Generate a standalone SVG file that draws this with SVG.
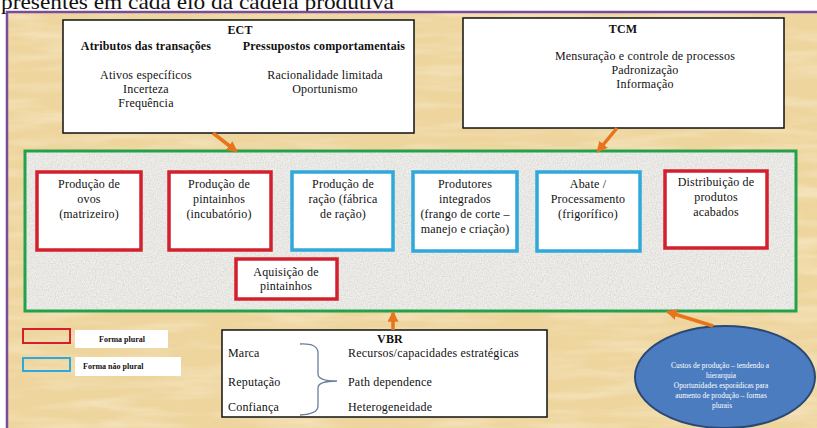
<svg xmlns="http://www.w3.org/2000/svg" width="817" height="428" viewBox="0 0 817 428" font-family="'Liberation Serif', 'DejaVu Serif', serif">
  <defs>
    <style>
      text { font-family: "Liberation Serif", "DejaVu Serif", serif; fill: #111; }
      .t12 { font-size: 12px; letter-spacing: 0.2px; }
      .b12 { font-size: 12px; font-weight: bold; letter-spacing: 0.15px; }
      .mid { text-anchor: middle; }
      .box { fill: #ffffff; stroke: #111; stroke-width: 1.5; }
      .red { fill: #ffffff; stroke: #d3202c; stroke-width: 3.5; }
      .blue { fill: #ffffff; stroke: #2fa9d9; stroke-width: 3.5; }
      .arrow { stroke: #e8741c; stroke-width: 3.5; fill: none; marker-end: url(#head); }
      .legend { font-size: 8px; font-weight: bold; }
      .oval { font-size: 7.4px; fill: #ffffff; text-anchor: middle; }
    </style>
    <marker id="head" viewBox="0 0 10 10" refX="8" refY="5" markerWidth="11" markerHeight="11" markerUnits="userSpaceOnUse" orient="auto">
      <path d="M0,0 L10,5 L0,10 Z" fill="#e8741c"/>
    </marker>
    <filter id="grain" x="0" y="0" width="100%" height="100%">
      <feTurbulence type="fractalNoise" baseFrequency="0.85" numOctaves="2" seed="4" result="n"/>
      <feColorMatrix in="n" type="matrix" values="0 0 0 0 0.45  0 0 0 0 0.42  0 0 0 0 0.38  0 0 0 -1.6 1.05"/>
    </filter>
    <filter id="fibre" x="0" y="0" width="100%" height="100%">
      <feTurbulence type="fractalNoise" baseFrequency="0.012 0.09" numOctaves="3" seed="7" result="n"/>
      <feColorMatrix in="n" type="matrix" values="0 0 0 0 1  0 0 0 0 0.96  0 0 0 0 0.85  0 0 0 1.1 -0.45"/>
    </filter>
  </defs>

  <!-- page -->
  <rect x="0" y="0" width="817" height="428" fill="#ffffff"/>
  <text x="1" y="8.5" style="font-size:21px" textLength="393" lengthAdjust="spacingAndGlyphs">presentes em cada elo da cadeia produtiva</text>

  <!-- parchment panel -->
  <rect x="7" y="12" width="820" height="430" fill="#eed59e"/>
  <rect x="7" y="12" width="820" height="430" filter="url(#fibre)" opacity="0.7"/>
  <rect x="7" y="12" width="820" height="430" fill="none" stroke="#7b4b9b" stroke-width="2.5"/>

  <!-- supply chain container -->
  <g id="chain">
    <rect x="25" y="151" width="771" height="160" fill="#efefec"/>
    <rect x="25" y="151" width="771" height="160" filter="url(#grain)" opacity="0.45"/>
    <rect x="25" y="151" width="771" height="160" fill="none" stroke="#22a34b" stroke-width="3"/>
  </g>

  <!-- theory boxes -->
  <g id="ect">
    <rect class="box" x="63" y="20" width="351" height="113"/>
    <text class="b12 mid" x="240" y="34">ECT</text>
    <text class="b12 mid" x="146" y="50">Atributos das transações</text>
    <text class="b12 mid" x="324" y="50">Pressupostos comportamentais</text>
    <text class="t12 mid" x="146" y="79">Ativos específicos</text>
    <text class="t12 mid" x="146" y="93">Incerteza</text>
    <text class="t12 mid" x="146" y="107">Frequência</text>
    <text class="t12 mid" x="325" y="79">Racionalidade limitada</text>
    <text class="t12 mid" x="325" y="93">Oportunismo</text>
  </g>

  <g id="tcm">
    <rect class="box" x="463" y="18" width="321" height="110"/>
    <text class="b12 mid" x="623" y="33">TCM</text>
    <text class="t12 mid" x="645" y="60">Mensuração e controle de processos</text>
    <text class="t12 mid" x="645" y="74">Padronização</text>
    <text class="t12 mid" x="645" y="88">Informação</text>
  </g>

  <!-- chain links -->
  <g id="n-ovos">
    <rect class="red" x="37" y="172" width="104" height="78"/>
    <text class="t12 mid" x="89" y="188">Produção de</text>
    <text class="t12 mid" x="89" y="203">ovos</text>
    <text class="t12 mid" x="89" y="218">(matrizeiro)</text>
  </g>
  <g id="n-pintainhos">
    <rect class="red" x="169" y="172" width="102" height="78"/>
    <text class="t12 mid" x="219" y="188">Produção de</text>
    <text class="t12 mid" x="219" y="203">pintainhos</text>
    <text class="t12 mid" x="219" y="218">(incubatório)</text>
  </g>
  <g id="n-racao">
    <rect class="blue" x="292" y="172" width="101" height="78"/>
    <text class="t12 mid" x="343" y="188">Produção de</text>
    <text class="t12 mid" x="343" y="203">ração (fábrica</text>
    <text class="t12 mid" x="343" y="218">de ração)</text>
  </g>
  <g id="n-integrados">
    <rect class="blue" x="413" y="172" width="104" height="79"/>
    <text class="t12 mid" x="465" y="188">Produtores</text>
    <text class="t12 mid" x="465" y="203">integrados</text>
    <text class="t12 mid" x="465" y="218">(frango de corte –</text>
    <text class="t12 mid" x="465" y="233">manejo e criação)</text>
  </g>
  <g id="n-abate">
    <rect class="blue" x="537" y="172" width="103" height="79"/>
    <text class="t12 mid" x="588" y="188">Abate /</text>
    <text class="t12 mid" x="588" y="203">Processamento</text>
    <text class="t12 mid" x="588" y="218">(frigorífico)</text>
  </g>
  <g id="n-distribuicao">
    <rect class="red" x="665" y="171" width="102" height="77"/>
    <text class="t12 mid" x="716" y="186">Distribuição de</text>
    <text class="t12 mid" x="716" y="201">produtos</text>
    <text class="t12 mid" x="716" y="216">acabados</text>
  </g>
  <g id="n-aquisicao">
    <rect class="red" x="236" y="259" width="101" height="40"/>
    <text class="t12 mid" x="286" y="276">Aquisição de</text>
    <text class="t12 mid" x="286" y="290">pintainhos</text>
  </g>

  <!-- legend -->
  <g id="legend">
    <rect x="23" y="329" width="47" height="14" fill="none" stroke="#d3202c" stroke-width="2"/>
    <rect x="23" y="358" width="47" height="13" fill="none" stroke="#2fa9d9" stroke-width="2"/>
    <rect x="75" y="330" width="93" height="18" fill="#ffffff"/>
    <rect x="75" y="357" width="106" height="19" fill="#ffffff"/>
    <text class="legend mid" x="122" y="342">Forma plural</text>
    <text class="legend" x="83" y="369">Forma não plural</text>
  </g>

  <g id="vbr">
    <rect class="box" x="222" y="330" width="325" height="87"/>
    <text class="b12 mid" x="390" y="343">VBR</text>
    <text class="t12" x="228" y="357">Marca</text>
    <text class="t12" x="228" y="386">Reputação</text>
    <text class="t12" x="228" y="411">Confiança</text>
    <text class="t12" x="348" y="357">Recursos/capacidades estratégicas</text>
    <text class="t12" x="348" y="386">Path dependence</text>
    <text class="t12" x="348" y="411">Heterogeneidade</text>
    <path d="M300,344 Q318,343 318,353 L318,374 Q318,381 337,381 Q318,381 318,388 L318,406 Q318,414 300,415" fill="none" stroke="#6b7f98" stroke-width="1.3"/>
  </g>

  <g id="custos">
    <ellipse cx="725" cy="377" rx="90" ry="51" fill="#4b7cc0" stroke="#2b4874" stroke-width="2"/>
    <text class="oval" x="720" y="368">Custos de produção – tendendo a</text>
    <text class="oval" x="721" y="378">hierarquia</text>
    <text class="oval" x="721" y="388">Oportunidades esporádicas para</text>
    <text class="oval" x="721" y="398">aumento de produção – formas</text>
    <text class="oval" x="722" y="408">plurais</text>
  </g>

  <!-- influence arrows -->
  <g id="connectors">
    <line class="arrow" x1="213" y1="133" x2="236" y2="151"/>
    <line class="arrow" x1="617" y1="128" x2="598" y2="151"/>
    <line class="arrow" x1="393" y1="330" x2="393" y2="313"/>
    <line class="arrow" x1="713" y1="326" x2="668" y2="312"/>
  </g>
</svg>
